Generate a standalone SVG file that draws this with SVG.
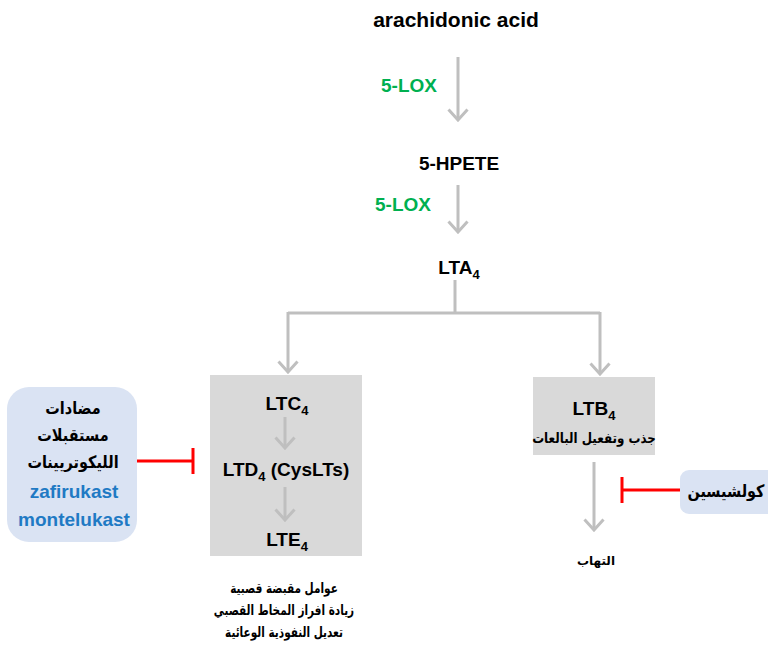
<svg xmlns="http://www.w3.org/2000/svg" width="768" height="646" viewBox="0 0 768 646">
<style>
.t{font-family:"Liberation Sans",Arial,sans-serif;font-weight:bold;fill:#000;text-anchor:middle}
.g{font-family:"Liberation Sans",Arial,sans-serif;font-weight:bold;fill:#00B050;text-anchor:middle;font-size:19px}
.b{font-family:"Liberation Sans",Arial,sans-serif;font-weight:bold;fill:#1F7AC4;text-anchor:middle;font-size:19px}
.ar{font-family:"DejaVu Sans","Noto Sans",sans-serif;font-weight:bold;fill:#000;text-anchor:middle}
.arr{stroke:#BFBFBF;stroke-width:3;fill:none}
.inh{stroke:#FF0000;stroke-width:3;fill:none}
</style>
<defs>
<marker id="ah" viewBox="0 0 14 22" refX="12" refY="11" markerWidth="14" markerHeight="22" markerUnits="userSpaceOnUse" orient="auto">
<path d="M1.5,1.5 L12,11 L1.5,20.5" stroke="#BFBFBF" stroke-width="3" fill="none" stroke-linejoin="miter"/>
</marker>
</defs>
<rect width="768" height="646" fill="#fff"/>
<g id="connectors">
<line class="arr" x1="458" y1="57" x2="458" y2="120" marker-end="url(#ah)"/>
<line class="arr" x1="458" y1="185" x2="458" y2="232" marker-end="url(#ah)"/>
<polyline class="arr" points="455,280 455,313"/>
<polyline class="arr" points="288,313 600,313"/>
<line class="arr" x1="288" y1="312" x2="288" y2="372" marker-end="url(#ah)"/>
<line class="arr" x1="600" y1="312" x2="600" y2="374" marker-end="url(#ah)"/>
<line class="arr" x1="594" y1="462" x2="594" y2="530" marker-end="url(#ah)"/>
<polyline class="inh" points="680,490 622,490"/>
<polyline class="inh" points="622,477 622,503"/>
<polyline class="inh" points="137,461 193,461"/>
<polyline class="inh" points="193,448 193,474"/>
</g>
<g id="arachidonic"><text class="t" x="456" y="27" font-size="21">arachidonic acid</text></g>
<g id="lox1"><text class="g" x="409" y="92">5-LOX</text></g>
<g id="hpete"><text class="t" x="459" y="170" font-size="19">5-HPETE</text></g>
<g id="lox2"><text class="g" x="403" y="211">5-LOX</text></g>
<g id="lta4"><text class="t" x="459" y="274" font-size="19">LTA<tspan font-size="13" dy="5">4</tspan></text></g>
<g id="cyslt">
<rect x="210" y="375" width="152" height="181" fill="#D9D9D9"/>
<text class="t" x="287" y="410" font-size="19">LTC<tspan font-size="13" dy="5">4</tspan></text>
<line class="arr" x1="285" y1="417" x2="285" y2="448" marker-end="url(#ah)"/>
<text class="t" x="286" y="476" font-size="19">LTD<tspan font-size="13" dy="5">4</tspan><tspan dy="-5"> (CysLTs)</tspan></text>
<line class="arr" x1="285" y1="487" x2="285" y2="520" marker-end="url(#ah)"/>
<text class="t" x="287" y="546" font-size="19">LTE<tspan font-size="13" dy="5">4</tspan></text>
</g>
<g id="effects">
<text class="ar" transform="translate(284,593) scale(0.75,1)" font-size="14">عوامل مقبضة قصبية</text>
<text class="ar" transform="translate(284,615) scale(0.75,1)" font-size="14">زيادة افراز المخاط القصبي</text>
<text class="ar" transform="translate(284,637) scale(0.75,1)" font-size="14">تعديل النفوذية الوعائية</text>
</g>
<g id="ltb4">
<rect x="533" y="377" width="122" height="78" fill="#D9D9D9"/>
<text class="t" x="594" y="415" font-size="19">LTB<tspan font-size="13" dy="5">4</tspan></text>
<text class="ar" transform="translate(594,443) scale(0.85,1)" font-size="14">جذب وتفعيل البالعات</text>
</g>
<g id="inflammation"><text class="ar" x="596" y="565" font-size="12">التهاب</text></g>
<g id="colchicine">
<rect x="680" y="470" width="100" height="44" rx="9" fill="#DAE3F3"/>
<text class="ar" transform="translate(726,497) scale(0.85,1)" font-size="17">كولشيسين</text>
</g>
<g id="antagonists">
<rect x="7" y="387" width="130" height="155" rx="22" fill="#DAE3F3"/>
<text class="ar" transform="translate(73,414) scale(0.85,1)" font-size="17">مضادات</text>
<text class="ar" transform="translate(73,441) scale(0.85,1)" font-size="17">مستقبلات</text>
<text class="ar" transform="translate(73,468) scale(0.85,1)" font-size="17">الليكوتريينات</text>
<text class="b" x="74" y="498">zafirukast</text>
<text class="b" x="74" y="526">montelukast</text>
</g>
</svg>
